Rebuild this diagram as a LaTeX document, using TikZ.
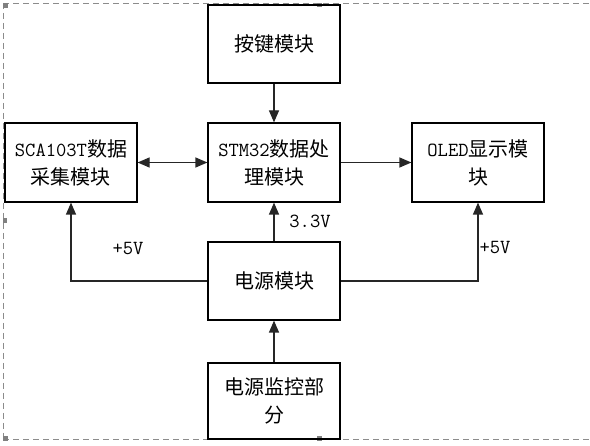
\documentclass[tikz,border=0pt]{standalone}
\usepackage{fontspec}
\setmainfont{Noto Sans CJK SC}
\usetikzlibrary{arrows.meta}
\newcommand\lat[1]{{\ttfamily\fontsize{20}{28}\selectfont #1}}
\begin{document}
\begin{tikzpicture}[x=1pt,y=-1pt,
  box/.style={draw=black, line width=1.2pt, minimum width=132pt, minimum height=78pt,
    align=center, inner sep=0pt, font=\fontsize{20}{28}\selectfont},
  conn/.style={line width=1.2pt, draw=black!85, -{Triangle[length=12pt,width=10pt]}},
  lbl/.style={inner sep=0pt, font=\ttfamily\fontsize{20}{22}\selectfont},
  handle/.style={fill=black!50, draw=none}]
\useasboundingbox (0,0) rectangle (590,446);
% frame
\draw[black!45, line width=0.8pt, dash pattern=on 6pt off 4pt] (3,3) -- (590,3);
\draw[black!45, line width=0.8pt, dash pattern=on 6pt off 4pt] (3,3) -- (3,439);
\draw[black!45, line width=0.8pt, dash pattern=on 6pt off 4pt] (3,439) -- (590,439);
\fill[handle] (3,3) rectangle (8,8);
\fill[handle] (317,3) rectangle (322,7);
\fill[handle] (3,218) rectangle (7,223);
\fill[handle] (3,436) rectangle (8,441);
\fill[handle] (317,436) rectangle (322,441);
% boxes
\node[box] (key) at (274,44) {按键模块};
\node[box, minimum height=79pt] (sca) at (71,162.5) {\lat{SCA103T}数据\\采集模块};
\node[box, minimum height=79pt] (stm) at (274,162.5) {\lat{STM32}数据处\\理模块};
\node[box, minimum height=79pt] (oled) at (478,162.5) {\lat{OLED}显示模\\块};
\node[box] (pwr) at (274,281) {电源模块};
\node[box, minimum height=76pt] (mon) at (274,401) {电源监控部\\分};
% connectors
\draw[conn] (key) -- (stm);
\draw[conn, {Triangle[length=12pt,width=10pt]}-{Triangle[length=12pt,width=10pt]}] (sca) -- (stm);
\draw[conn] (stm) -- (oled);
\draw[conn] (pwr) -- (stm);
\draw[conn] (pwr.west) -| (sca.south);
\draw[conn] (pwr.east) -| (oled.south);
\draw[conn] (mon) -- (pwr);
% labels
\node[lbl] (l33) at (310,221) {3.3V};
\node[lbl] (l5a) at (128,249) {+5V};
\node[lbl] (l5b) at (495,248) {+5V};
\end{tikzpicture}
\end{document}
